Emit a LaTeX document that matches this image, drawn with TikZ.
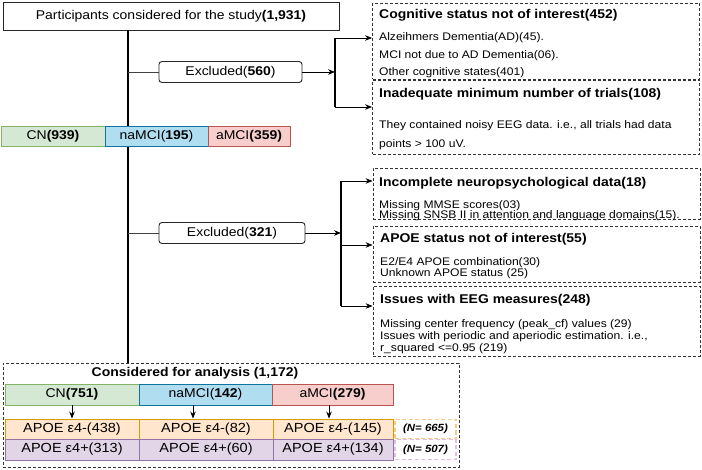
\documentclass[tikz,border=0pt]{standalone}
\usepackage{fontspec}
\setmainfont{Liberation Sans}[FakeStretch=1.1]
\usetikzlibrary{arrows.meta}
\definecolor{cnfill}{HTML}{D5E8D4}\definecolor{cnline}{HTML}{82B366}
\definecolor{nafill}{HTML}{B1DDF0}\definecolor{naline}{HTML}{10739E}
\definecolor{amfill}{HTML}{F8CECC}\definecolor{amline}{HTML}{B85450}
\definecolor{negfill}{HTML}{FFE6CC}\definecolor{negline}{HTML}{D79B00}
\definecolor{posfill}{HTML}{E1D5E7}\definecolor{posline}{HTML}{9673A6}
\definecolor{ndashO}{HTML}{F8C890}\definecolor{ndashP}{HTML}{E2BFE2}
\begin{document}
\begin{tikzpicture}[x=1pt,y=-1pt,
  lab/.style={font=\fontsize{12.7}{14}\selectfont},
  plainbox/.style={draw=black!85, line width=0.9pt, inner sep=0pt, lab},
  exclbox/.style={plainbox, rounded corners=3pt, minimum width=143pt, minimum height=21pt},
  dbox/.style={draw=black!80, line width=0.8pt, dash pattern=on 3pt off 2pt, inner sep=0pt, minimum width=327pt},
  grp/.style={draw=#1line, fill=#1fill, line width=0.9pt, inner sep=0pt, lab, minimum height=20pt},
  apoe/.style={draw=#1line, fill=#1fill, line width=0.9pt, inner sep=0pt, font=\fontsize{13.2}{15}\selectfont, minimum height=20pt},
  nbox/.style={draw=#1, line width=1.2pt, dash pattern=on 4pt off 2.5pt, inner sep=0pt, minimum width=61pt, minimum height=19pt, font=\fontsize{10.4}{12}\selectfont\bfseries\itshape},
  ttl/.style={anchor=base west, inner sep=0pt, font=\fontsize{12.7}{14}\selectfont\bfseries},
  body/.style={anchor=base west, inner sep=0pt, font=\fontsize{11}{13}\selectfont},
  mainline/.style={line width=2.3pt, black},
  brk/.style={line width=1.8pt, black},
  conn/.style={line width=0.9pt, black!75},
  arr/.style={line width=0.9pt, black, -{Stealth[length=7pt,width=5.5pt]}},
]
\useasboundingbox (0,0) rectangle (702,470);

% top box
\node[plainbox, minimum width=336pt, minimum height=28pt] (top) at (171,16) {Participants considered for the study\textbf{(1,931)}};
\coordinate (m1) at (128,30);

% analysis box
\node[dbox, minimum width=456pt, minimum height=104pt] (ana) at (231,415) {};

% main line
\draw[mainline] (m1) -- (m1 |- ana.north);

% first row of groups
\node[grp=cn, minimum width=104pt] (cn1) at (53,136) {CN\textbf{(939)}};
\node[grp=na, minimum width=103pt] (na1) at (156.5,136) {naMCI(\textbf{195})};
\node[grp=am, minimum width=82pt] (am1) at (249,136) {aMCI\textbf{(359)}};

% excluded boxes
\node[exclbox] (ex1) at (230.5,72) {Excluded(\textbf{560})};
\node[exclbox, minimum width=146pt] (ex2) at (232,233) {Excluded(\textbf{321})};
\draw[conn] (ex1.west -| m1) -- (ex1.west);
\draw[conn] (ex2.west -| m1) -- (ex2.west);

% dashed reason boxes
\node[dbox, minimum height=76pt] (cog) at (536,41) {};
\node[dbox, minimum height=74pt] (inad) at (536,117) {};
\node[dbox, minimum height=51pt] (inc) at (536.5,193.5) {};
\node[dbox, minimum height=56pt] (apst) at (536.5,254) {};
\node[dbox, minimum height=70pt] (eeg) at (536.5,321) {};

% bracket 1
\coordinate (b1) at (335,72);
\coordinate (b1t) at (335,38);
\coordinate (b1b) at (335,107);
\draw[arr] (ex1.east) -- (b1);
\draw[brk] (b1t) -- (b1b);
\draw[arr] (b1t) -- (b1t -| cog.west);
\draw[arr] (b1b) -- (b1b -| inad.west);

% bracket 2
\coordinate (b2) at (341,233);
\coordinate (b2t) at (341,181);
\coordinate (b2m) at (341,245);
\coordinate (b2b) at (341,306);
\draw[arr] (ex2.east) -- (b2);
\draw[brk] (b2t) -- (b2b);
\draw[arr] (b2t) -- (b2t -| inc.west);
\draw[arr] (b2m) -- (b2m -| apst.west);
\draw[arr] (b2b) -- (b2b -| eeg.west);

% texts in reason boxes
\node[ttl] (t1) at (379,18.6) {Cognitive status not of interest(452)};
\node[body] (t1a) at (379,41) {Alzeihmers Dementia(AD)(45).};
\node[body] (t1b) at (379,58.2) {MCI not due to AD Dementia(06).};
\node[body] (t1c) at (379,75.8) {Other cognitive states(401)};
\node[ttl] (t2) at (379,97.6) {Inadequate minimum number of trials(108)};
\node[body] (t2a) at (379,129) {They contained noisy EEG data. i.e., all trials had data};
\node[body] (t2b) at (379,148) {points > 100 uV.};
\node[ttl] (t3) at (379,186.6) {Incomplete neuropsychological data(18)};
\node[body] (t3a) at (379,208.6) {Missing MMSE scores(03)};
\node[body] (t3b) at (379,218.6) {Missing SNSB II in attention and language domains(15).};
\node[ttl] (t4) at (380,242.6) {APOE status not of interest(55)};
\node[body] (t4a) at (380,266) {E2/E4 APOE combination(30)};
\node[body] (t4b) at (380,277) {Unknown APOE status (25)};
\node[ttl] (t5) at (380,303.6) {Issues with EEG measures(248)};
\node[body] (t5a) at (380,328) {Missing center frequency (peak\_cf) values (29)};
\node[body] (t5b) at (380,339.8) {Issues with periodic and aperiodic estimation. i.e.,};
\node[body] (t5c) at (380,351.2) {r\_squared <=0.95 (219)};

% analysis content
\node[inner sep=0pt, font=\fontsize{12.7}{14}\selectfont\bfseries] (atitle) at (195,373) {Considered for analysis (1,172)};
\node[grp=cn, minimum width=134pt, minimum height=21pt] (cn2) at (72,394.5) {CN\textbf{(751)}};
\node[grp=na, minimum width=133pt, minimum height=21pt] (na2) at (205.5,394.5) {naMCI(\textbf{142})};
\node[grp=am, minimum width=121pt, minimum height=21pt] (am2) at (332.5,394.5) {aMCI\textbf{(279)}};

\node[apoe=neg, minimum width=134pt] (n1) at (72,429) {APOE ε4-(438)};
\node[apoe=neg, minimum width=134pt] (n2) at (206,429) {APOE ε4-(82)};
\node[apoe=neg, minimum width=120pt] (n3) at (333,429) {APOE ε4-(145)};
\node[apoe=pos, minimum width=134pt, minimum height=21pt] (p1) at (72,449.5) {APOE ε4+(313)};
\node[apoe=pos, minimum width=134pt, minimum height=21pt] (p2) at (206,449.5) {APOE ε4+(60)};
\node[apoe=pos, minimum width=120pt, minimum height=21pt] (p3) at (333,449.5) {APOE ε4+(134)};

\coordinate (ax1) at (72,0);
\coordinate (ax2) at (193,0);
\coordinate (ax3) at (329,0);
\draw[arr] (cn2.south -| ax1) -- (ax1 |- n1.north);
\draw[arr] (na2.south -| ax2) -- (ax2 |- n2.north);
\draw[arr] (am2.south -| ax3) -- (ax3 |- n3.north);

\node[nbox=ndashO] (nn) at (425.5,429) {(N= 665)};
\node[nbox=ndashP, minimum height=20pt] (np) at (425.5,449.5) {(N= 507)};
\end{tikzpicture}
\end{document}
